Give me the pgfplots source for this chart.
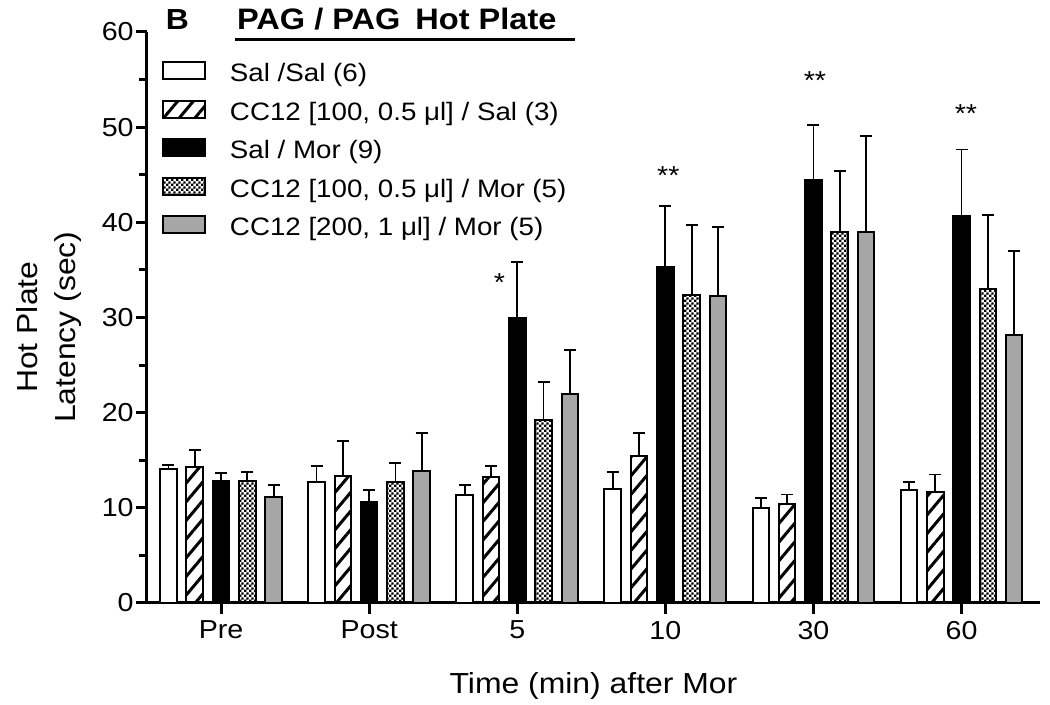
\documentclass[border=0pt]{standalone}
\usepackage{pgfplots}
\pgfplotsset{compat=1.18}
\usepackage{fontspec}
\setmainfont{Liberation Sans}[FakeStretch=1.1]
\usetikzlibrary{patterns,patterns.meta}
\definecolor{bargray}{RGB}{166,166,166}
\pgfdeclarepatternformonly{mychecker}{\pgfpointorigin}{\pgfpoint{2.6pt}{2.6pt}}{\pgfpoint{2.6pt}{2.6pt}}{%
  \pgfpathrectangle{\pgfpointorigin}{\pgfpoint{1.3pt}{1.3pt}}%
  \pgfpathrectangle{\pgfpoint{1.3pt}{1.3pt}}{\pgfpoint{1.3pt}{1.3pt}}%
  \pgfusepath{fill}}
\pgfplotsset{
  boxleg/.style={legend image code/.code={\draw[##1] (0pt,-2pt) rectangle (21pt,6.5pt);}},
}
\begin{document}
\begin{tikzpicture}
\useasboundingbox (-73.5pt,-51pt) rectangle (451.5pt,301.5pt);
\begin{axis}[
  at={(0pt,0pt)}, anchor=south west,
  scale only axis, width=446.5pt, height=285.5pt,
  xmin=-0.5, xmax=5.53, ymin=0, ymax=60,
  axis lines=left, axis line style={-, line width=1.5pt},
  ybar=4.85pt, bar width=8.3pt,
  xtick={0,1,2,3,4,5}, xticklabels={Pre,Post,5,10,30,60},
  ytick={0,10,20,30,40,50,60}, minor ytick={5,15,25,35,45,55},
  tick align=outside, xtick pos=left, ytick pos=left,
  major tick length=5.5pt, minor tick length=4pt,
  tick style={black, line width=1.5pt},
  tick label style={font=\fontsize{13}{15}\selectfont},
  yticklabel style={inner sep=1pt},
  /pgf/number format/assume math mode=true,
  xlabel={Time (min) after Mor},
  xlabel style={font=\fontsize{14.5}{17}\selectfont, at={(axis description cs:0.5,-0.146)}, anchor=center},
  ylabel={Hot Plate\\Latency (sec)},
  ylabel style={font=\fontsize{14.5}{19}\selectfont, align=center, at={(axis description cs:-0.1097,0.483)}, anchor=center},
  legend cell align=left,
  legend style={at={(axis description cs:0.0168,0.9486)}, anchor=north west, draw=none, fill=none,
    inner sep=0pt, outer sep=0pt, row sep=6pt, column sep=12pt,
    font=\fontsize{12.6}{15}\selectfont,
    nodes={inner sep=0pt, text height=9.5pt, text depth=3pt}},
  error bars/y dir=plus, error bars/y explicit,
  error bars/error bar style={line width=0.9pt, black},
  error bars/error mark options={rotate=90, line width=0.9pt, black, mark size=3pt},
]
\addplot[boxleg, draw=black, line width=1pt, fill=white] coordinates {
  (0,14.1) +- (0,0.4) (1,12.7) +- (0,1.7) (2,11.3) +- (0,1.1)
  (3,12.0) +- (0,1.8) (4,10.0) +- (0,1.05) (5,11.85) +- (0,0.85)};
\addlegendentry{Sal /Sal (6)}
\addplot[boxleg, draw=black, line width=1pt, pattern={Lines[angle=50,distance=6pt,line width=1.5pt]}] coordinates {
  (0,14.25) +- (0,1.85) (1,13.3) +- (0,3.75) (2,13.2) +- (0,1.2)
  (3,15.4) +- (0,2.5) (4,10.4) +- (0,1.0) (5,11.7) +- (0,1.8)};
\addlegendentry{CC12 [100, 0.5 μl] / Sal (3)}
\addplot[boxleg, draw=black, line width=1pt, fill=black] coordinates {
  (0,12.8) +- (0,0.85) (1,10.6) +- (0,1.25) (2,29.9) +- (0,5.9)
  (3,35.3) +- (0,6.4) (4,44.4) +- (0,5.8) (5,40.7) +- (0,6.95)};
\addlegendentry{Sal / Mor (9)}
\addplot[boxleg, draw=black, line width=1pt, pattern=mychecker] coordinates {
  (0,12.8) +- (0,1.0) (1,12.7) +- (0,2.05) (2,19.2) +- (0,4.0)
  (3,32.35) +- (0,7.4) (4,39.0) +- (0,6.4) (5,33.0) +- (0,7.8)};
\addlegendentry{CC12 [100, 0.5 μl] / Mor (5)}
\addplot[boxleg, draw=black, line width=1pt, fill=bargray] coordinates {
  (0,11.1) +- (0,1.3) (1,13.9) +- (0,3.95) (2,22.0) +- (0,4.6)
  (3,32.3) +- (0,7.2) (4,39.0) +- (0,10.1) (5,28.2) +- (0,8.75)};
\addlegendentry{CC12 [200, 1 μl] / Mor (5)}
\node[font=\fontsize{13}{15}\selectfont, anchor=base] at (axis cs:1.88,32.7) {*};
\node[font=\fontsize{13}{15}\selectfont, anchor=base] at (axis cs:3.02,44.0) {**};
\node[font=\fontsize{13}{15}\selectfont, anchor=base] at (axis cs:4.01,54.0) {**};
\node[font=\fontsize{13}{15}\selectfont, anchor=base] at (axis cs:5.03,50.5) {**};
\end{axis}
\node[font=\bfseries\fontsize{14.5}{16}\selectfont, anchor=base] at (15.25pt,286.5pt) {B};
\node[font=\bfseries\fontsize{14.8}{16}\selectfont, anchor=base west, inner sep=0pt] at (44.85pt,286.5pt) {PAG / PAG};
\node[font=\bfseries\fontsize{14.8}{16}\selectfont, anchor=base west, inner sep=0pt] at (134pt,286.5pt) {Hot Plate};
\draw[line width=1.5pt] (44pt,281.85pt) -- (214pt,281.85pt);
\end{tikzpicture}
\end{document}
